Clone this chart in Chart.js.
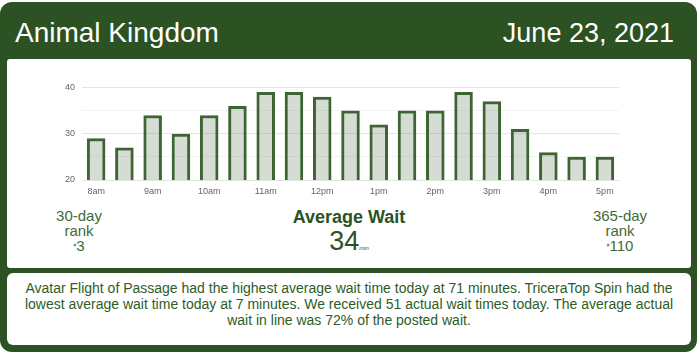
<!DOCTYPE html>
<html>
<head>
<meta charset="utf-8">
<script src="https://cdn.jsdelivr.net/npm/chart.js@4/dist/chart.umd.min.js"></script>
<style>
  html, body { margin: 0; padding: 0; background: #ffffff; width: 700px; height: 356px; overflow: hidden; font-family: "Liberation Sans", Arial, sans-serif; }
  #frame { position: absolute; left: 0; top: 2px; width: 697px; height: 350px; background: #2c5224; border-radius: 12px; }
  .hdr { position: absolute; top: 14px; color: #ffffff; line-height: 34px; }
  #title { left: 15px; font-size: 28px; }
  #date { right: 23px; font-size: 27px; }
  #panel1 { position: absolute; left: 7px; top: 57px; width: 684px; height: 209px; background: #ffffff; border-radius: 3px; }
  #panel2 { position: absolute; left: 7px; top: 271px; width: 684px; height: 72px; background: #ffffff; border-radius: 6px; }
  #chartBox { position: absolute; left: 33px; top: 16px; width: 582px; height: 125px; }
  .rank { position: absolute; top: 149px; width: 110px; text-align: center; color: #3f6a37; font-family: "Liberation Sans Narrow", "Arial Narrow", "Liberation Sans", sans-serif; font-size: 15px; line-height: 15px; }
  .rank sup { font-size: 5px; vertical-align: 4px; }
  #rankL { left: 17px; }
  #rankR { left: 558px; }
  #avg { position: absolute; left: 242px; top: 148px; width: 200px; text-align: center; color: #2c5224; }
  #avgT { font-weight: bold; font-size: 18px; line-height: 20px; }
  #avgV { font-size: 27px; line-height: 28px; color: #2c5224; }
  #avgV span { font-size: 6px; }
  #summary { position: absolute; left: 0; top: 7px; width: 684px; text-align: center; color: #2e5c28; font-size: 14px; line-height: 16px; white-space: nowrap; }
</style>
</head>
<body>
<div id="frame">
  <div class="hdr" id="title">Animal Kingdom</div>
  <div class="hdr" id="date">June 23, 2021</div>
  <div id="panel1">
    <div id="chartBox"><canvas id="c"></canvas></div>
    <div class="rank" id="rankL">30-day<br>rank<br><sup>#</sup>3</div>
    <div id="avg"><div id="avgT">Average Wait</div><div id="avgV">34<span>min</span></div></div>
    <div class="rank" id="rankR">365-day<br>rank<br><sup>#</sup>110</div>
  </div>
  <div id="panel2">
    <div id="summary">Avatar Flight of Passage had the highest average wait time today at 71 minutes. TriceraTop Spin had the<br>lowest average wait time today at 7 minutes. We received 51 actual wait times today. The average actual<br>wait in line was 72% of the posted wait.</div>
  </div>
</div>
<script>
const categories = ["8:00","8:30","9:00","9:30","10:00","10:30","11:00","11:30","12:00","12:30","13:00","13:30","14:00","14:30","15:00","15:30","16:00","16:30","17:00"];
const tickLabels = ["8am","","9am","","10am","","11am","","12pm","","1pm","","2pm","","3pm","","4pm","","5pm"];
const waits = [29, 27, 34, 30, 34, 36, 39, 39, 38, 35, 32, 35, 35, 39, 37, 31, 26, 25, 25];
const yTicks = [20, 30, 40];

new Chart(document.getElementById('c'), {
  type: 'bar',
  data: {
    labels: categories,
    datasets: [{
      data: waits,
      backgroundColor: 'rgba(44,82,36,0.2)',
      borderColor: '#3d6533',
      borderWidth: 3,
      barPercentage: 0.82,
      categoryPercentage: 0.8
    }]
  },
  options: {
    responsive: true,
    maintainAspectRatio: false,
    animation: false,
    layout: { padding: { top: 7, right: 3 } },
    plugins: { legend: { display: false }, tooltip: { enabled: false } },
    scales: {
      x: {
        grid: { display: false, drawTicks: false },
        border: { display: false },
        ticks: {
          autoSkip: false, maxRotation: 0, padding: 6,
          color: '#666', font: { size: 9 },
          callback: (v, i) => tickLabels[i]
        },
        afterFit: s => { s.height = 20; }
      },
      y: {
        min: 20, max: 40,
        grid: {
          drawTicks: false,
          color: c => (yTicks.includes(c.tick.value) ? 'rgba(0,0,0,0.1)' : 'rgba(0,0,0,0.05)')
        },
        border: { display: false },
        ticks: {
          stepSize: 5, padding: 7, color: '#666', font: { size: 9 },
          callback: v => (yTicks.includes(v) ? v : '')
        },
        afterFit: s => { s.width = 42; }
      }
    }
  }
});
</script>
</body>
</html>
